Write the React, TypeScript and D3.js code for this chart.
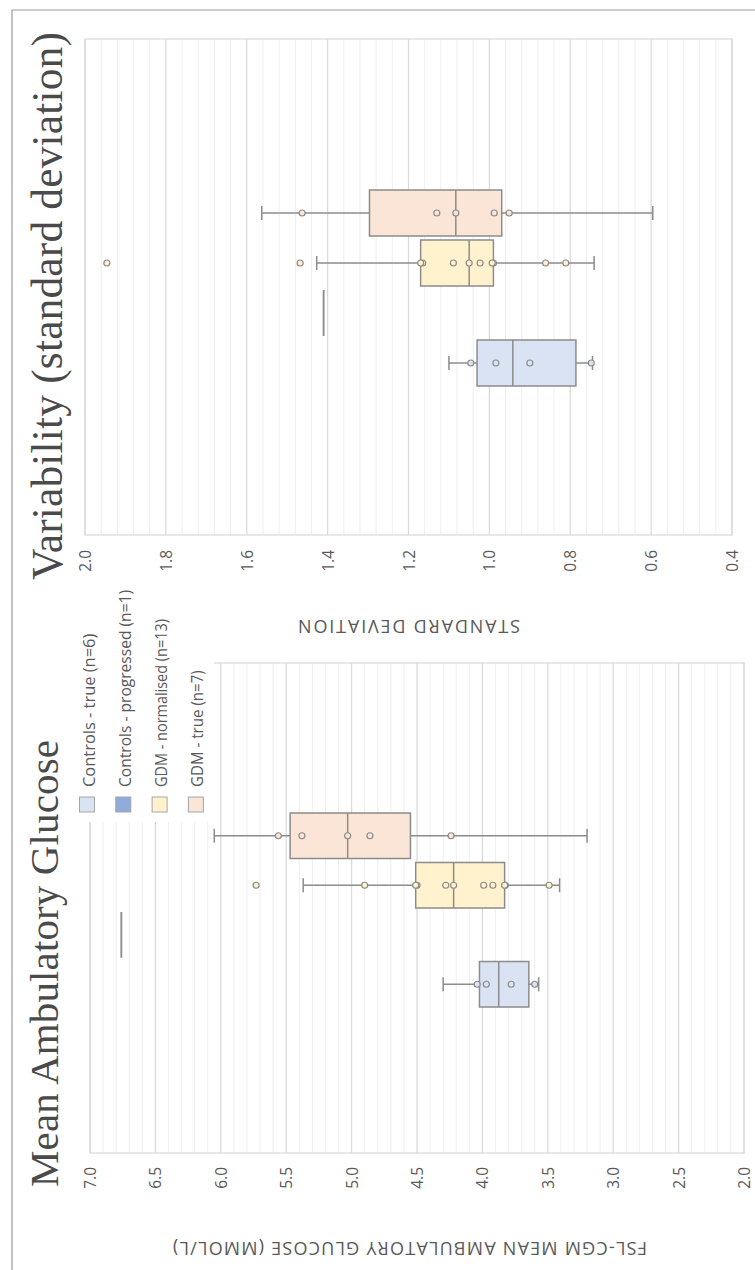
import React from "react";
import * as d3 from "d3";

// ---------- data ----------
const seriesNames = [
  "Controls - true (n=6)",
  "Controls - progressed (n=1)",
  "GDM - normalised (n=13)",
  "GDM - true (n=7)",
];
const seriesFills = ["#dae3f3", "#8faadc", "#fff2cc", "#fbe5d6"];

// Mean ambulatory glucose (mmol/L)
const glucoseControlsTrue = [4.3, 4.04, 3.97, 3.78, 3.6, 3.57];
const glucoseControlsProgressed = [6.76];
const glucoseGdmNormalised = [3.41, 3.49, 3.825, 3.83, 3.92, 3.99, 4.22, 4.28, 4.5, 4.51, 4.9, 5.37, 5.73];
const glucoseGdmTrue = [6.05, 5.56, 5.38, 5.03, 4.86, 4.24, 3.2];

// Variability (standard deviation)
const sdControlsTrue = [1.1, 1.046, 0.984, 0.9, 0.748, 0.745];
const sdControlsProgressed = [1.41];
const sdGdmNormalised = [0.741, 0.811, 0.861, 0.99, 0.993, 1.023, 1.05, 1.089, 1.165, 1.17, 1.427, 1.468, 1.946];
const sdGdmTrue = [1.563, 1.463, 1.13, 1.083, 0.988, 0.951, 0.596];

const glucoseTicks = [7.0, 6.5, 6.0, 5.5, 5.0, 4.5, 4.0, 3.5, 3.0, 2.5, 2.0];
const sdTicks = [2.0, 1.8, 1.6, 1.4, 1.2, 1.0, 0.8, 0.6, 0.4];

// ---------- helpers ----------
function boxStats(values: number[]) {
  const s = [...values].sort(d3.ascending);
  const q1 = d3.quantileSorted(s, 0.25) as number;
  const med = d3.quantileSorted(s, 0.5) as number;
  const q3 = d3.quantileSorted(s, 0.75) as number;
  const iqr = q3 - q1;
  const lo = d3.min(s.filter((v) => v >= q1 - 1.5 * iqr)) as number;
  const hi = d3.max(s.filter((v) => v <= q3 + 1.5 * iqr)) as number;
  const pts = s.filter((v) => (v > lo && v < hi) || v < lo || v > hi);
  return { q1, med, q3, lo, hi, pts };
}

const W = 1270;
const H = 755;
const STROKE = "#8c8c8c";
const TEXT = "#595959";
const SANS = "'Open Sans', 'Noto Sans', sans-serif";
const SERIF = "'Liberation Serif', 'DejaVu Serif', serif";

type PanelProps = {
  x0: number; x1: number; y0: number; y1: number;
  domain: [number, number];
  minorStep: number;
  ticks: number[];
  data: number[][];
  clusterCenter: number;
  clusterHalf: number;
  labelEnd: number;
};

function Panel(p: PanelProps) {
  const y = d3.scaleLinear().domain(p.domain).range([p.y1, p.y0]);
  const x = d3
    .scaleBand<string>()
    .domain(seriesNames)
    .range([p.clusterCenter - p.clusterHalf, p.clusterCenter + p.clusterHalf])
    .paddingInner(0.08)
    .paddingOuter(0.04);
  const nMinor = Math.round((p.domain[1] - p.domain[0]) / p.minorStep);
  const minor = d3.range(0, nMinor + 1).map((i) => p.domain[0] + i * p.minorStep);
  const isMajor = (v: number) => p.ticks.some((t) => Math.abs(t - v) < 1e-6);
  const bw = x.bandwidth();
  const cap = 14;
  return (
    <g>
      {minor.filter((v) => !isMajor(v)).map((v, i) => (
        <line key={"m" + i} x1={p.x0} x2={p.x1} y1={y(v)} y2={y(v)} stroke="#efefef" strokeWidth={1} />
      ))}
      {p.ticks.map((v, i) => (
        <line key={"M" + i} x1={p.x0} x2={p.x1} y1={y(v)} y2={y(v)} stroke="#d9d9d9" strokeWidth={1.2} />
      ))}
      <rect x={p.x0} y={p.y0} width={p.x1 - p.x0} height={p.y1 - p.y0} fill="none" stroke="#d9d9d9" strokeWidth={1.2} />
      {p.ticks.map((v, i) => (
        <text key={"t" + i} x={p.labelEnd} y={y(v)} textAnchor="end" dominantBaseline="central"
          fontFamily={SANS} fontSize={15.5} fill={TEXT}>{d3.format(".1f")(v)}</text>
      ))}
      {p.data.map((vals, si) => {
        const st = boxStats(vals);
        const name = seriesNames[si];
        const left = x(name) as number;
        const cx = left + bw / 2;
        const box = d3.path();
        box.moveTo(left, y(st.q3));
        box.lineTo(left + bw, y(st.q3));
        box.lineTo(left + bw, y(st.q1));
        box.lineTo(left, y(st.q1));
        box.closePath();
        const showWhiskers = vals.length > 1;
        return (
          <g key={name}>
            {showWhiskers && (
              <g stroke={STROKE} strokeWidth={1.5}>
                <line x1={cx} x2={cx} y1={y(st.q3)} y2={y(st.hi)} />
                <line x1={cx} x2={cx} y1={y(st.q1)} y2={y(st.lo)} />
                <line x1={cx - cap / 2} x2={cx + cap / 2} y1={y(st.hi)} y2={y(st.hi)} />
                <line x1={cx - cap / 2} x2={cx + cap / 2} y1={y(st.lo)} y2={y(st.lo)} />
              </g>
            )}
            <path d={box.toString()} fill={seriesFills[si]} stroke={STROKE} strokeWidth={1.5} />
            <line x1={left} x2={left + bw} y1={y(st.med)} y2={y(st.med)} stroke={STROKE} strokeWidth={1.5} />
            {st.pts.map((v, i) => (
              <circle key={i} cx={cx} cy={y(v)} r={3} fill={seriesFills[si]} stroke={STROKE} strokeWidth={1.2} />
            ))}
          </g>
        );
      })}
    </g>
  );
}

export default function App() {
  return (
    <svg width={755} height={1270} style={{ position: "absolute", left: 0, top: 0, background: "#fff" }}>
      <rect x={0} y={0} width={755} height={1270} fill="#fff" />
      <g transform={`translate(0,${W}) rotate(-90)`}>
        {/* frame */}
        <line x1={0} x2={1260} y1={12} y2={12} stroke="#9a9a9a" strokeWidth={1.2} />
        <line x1={1260} x2={1260} y1={12} y2={H} stroke="#9a9a9a" strokeWidth={1.2} />

        {/* Left chart: Mean Ambulatory Glucose */}
        <text x={83} y={58} fontFamily={SERIF} fontSize={41} fill="#4a4a4a" textLength={447} lengthAdjust="spacing">
          Mean Ambulatory Glucose
        </text>
        <Panel x0={117} x1={607} y0={90} y1={744} domain={[2, 7]} minorStep={0.1} ticks={glucoseTicks}
          data={[glucoseControlsTrue, glucoseControlsProgressed, glucoseGdmNormalised, glucoseGdmTrue]}
          clusterCenter={360} clusterHalf={99} labelEnd={103} />
        <text transform="translate(21,410) rotate(-90)" textAnchor="middle" dominantBaseline="central"
          fontFamily={SANS} fontSize={18} fill={TEXT} textLength={474} lengthAdjust="spacing">
          FSL-CGM MEAN AMBULATORY GLUCOSE (MMOL/L)
        </text>

        {/* legend */}
        <rect x={448} y={68} width={242} height={146} fill="#fff" />
        {seriesNames.map((n, i) => {
          const cy = 87 + i * 36.3;
          return (
            <g key={n}>
              <rect x={458} y={cy - 7.5} width={15} height={15} fill={seriesFills[i]} stroke="#a6a6a6" strokeWidth={1} />
              <text x={483} y={cy + 1} dominantBaseline="central" fontFamily={SANS} fontSize={16.5} fill={TEXT}
                textLength={n.length * 7.3} lengthAdjust="spacingAndGlyphs">{n}</text>
            </g>
          );
        })}

        {/* Right chart: Variability */}
        <text x={690} y={62} fontFamily={SERIF} fontSize={43.5} fill="#4a4a4a" textLength={548} lengthAdjust="spacing">
          Variability (standard deviation)
        </text>
        <Panel x0={735} x1={1231} y0={85} y1={732} domain={[0.4, 2.0]} minorStep={0.04} ticks={sdTicks}
          data={[sdControlsTrue, sdControlsProgressed, sdGdmNormalised, sdGdmTrue]}
          clusterCenter={982} clusterHalf={100} labelEnd={720} />
        <text transform="translate(643,409) rotate(-90)" textAnchor="middle" dominantBaseline="central"
          fontFamily={SANS} fontSize={18} fill={TEXT} textLength={222} lengthAdjust="spacing">
          STANDARD DEVIATION
        </text>
      </g>
    </svg>
  );
}
